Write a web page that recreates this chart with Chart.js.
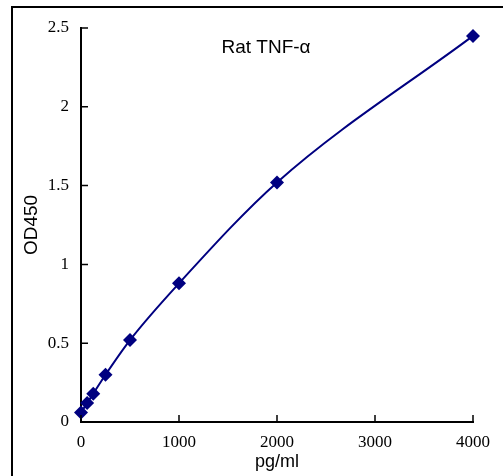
<!DOCTYPE html>
<html>
<head>
<meta charset="utf-8">
<script src="https://cdn.jsdelivr.net/npm/chart.js@4/dist/chart.umd.min.js"></script>
<style>
  html, body { margin: 0; padding: 0; background: #fff; overflow: hidden; }
  #wrap { position: relative; width: 503px; height: 476px; }
  #frame { position: absolute; left: 11px; top: 6px; width: 600px; height: 600px; border: 2px solid #000; box-sizing: border-box; }
  canvas { position: absolute; left: 0; top: 0; }
</style>
</head>
<body>
<div id="wrap">
  <div id="frame"></div>
  <canvas id="curve" width="503" height="476"></canvas>
</div>
<script>
// standard curve, Rat TNF-alpha
const concentrations = [0, 62.5, 125, 250, 500, 1000, 2000, 4000];
const odValues = [0.06, 0.12, 0.18, 0.30, 0.52, 0.88, 1.52, 2.45];
const xTicks = [0, 1000, 2000, 3000, 4000];
const yTicks = [0, 0.5, 1, 1.5, 2, 2.5];

const navy = '#000080';

// small inward tick marks + title inside plot
const extras = {
    id: 'extras',
    afterDraw(chart) {
        const c = chart.ctx;
        const xs = chart.scales.x, ys = chart.scales.y;
        const area = chart.chartArea;
        c.save();
        c.strokeStyle = '#000';
        c.lineWidth = 1.5;
        c.beginPath();
        xTicks.forEach(v => {
            const px = xs.getPixelForValue(v);
            c.moveTo(px, area.bottom);
            c.lineTo(px, area.bottom - 7);
        });
        yTicks.forEach(v => {
            const py = ys.getPixelForValue(v);
            c.moveTo(area.left, py);
            c.lineTo(area.left + 7, py);
        });
        c.stroke();
        c.fillStyle = '#000';
        c.font = '19px Arial, "Liberation Sans", sans-serif';
        c.textAlign = 'center';
        c.textBaseline = 'middle';
        c.fillText('Rat TNF-α', 266, 48);
        c.restore();
    }
};

const ctx = document.getElementById('curve').getContext('2d');
const chart = new Chart(ctx, {
    type: 'scatter',
    data: {
        datasets: [{
            data: concentrations.map((x, i) => ({ x: x, y: odValues[i] })),
            showLine: true,
            clip: false,
            borderColor: navy,
            borderWidth: 2,
            backgroundColor: navy,
            pointStyle: 'rectRot',
            pointRadius: 7,
            pointBorderWidth: 0,
            cubicInterpolationMode: 'monotone'
        }]
    },
    plugins: [extras],
    options: {
        responsive: false,
        animation: false,
        layout: { padding: { left: 0, right: 30, top: 28, bottom: 0 } },
        plugins: {
            legend: { display: false },
            tooltip: { enabled: false }
        },
        scales: {
            x: {
                type: 'linear',
                min: 0,
                max: 4000,
                afterBuildTicks: s => { s.ticks = xTicks.map(v => ({ value: v })); },
                afterFit: s => { s.height = 54; },
                grid: { display: false, drawTicks: false },
                border: { display: true, color: '#000', width: 2 },
                ticks: {
                    padding: 10,
                    color: '#000',
                    callback: v => String(v),
                    font: { family: '"Liberation Serif", "DejaVu Serif", serif', size: 17 }
                },
                title: {
                    display: true,
                    text: 'pg/ml',
                    color: '#000',
                    padding: { top: 0, bottom: 3 },
                    font: { family: 'Arial, "Liberation Sans", sans-serif', size: 18 }
                }
            },
            y: {
                min: 0,
                max: 2.5,
                afterBuildTicks: s => { s.ticks = yTicks.map(v => ({ value: v })); },
                afterFit: s => { s.width = 81; },
                grid: { display: false, drawTicks: false },
                border: { display: true, color: '#000', width: 2 },
                ticks: {
                    padding: 12,
                    color: '#000',
                    callback: v => String(v),
                    font: { family: '"Liberation Serif", "DejaVu Serif", serif', size: 17 }
                },
                title: {
                    display: true,
                    text: 'OD450',
                    color: '#000',
                    padding: { top: 20, bottom: 0 },
                    font: { family: 'Arial, "Liberation Sans", sans-serif', size: 19 }
                }
            }
        }
    }
});
</script>
</body>
</html>
